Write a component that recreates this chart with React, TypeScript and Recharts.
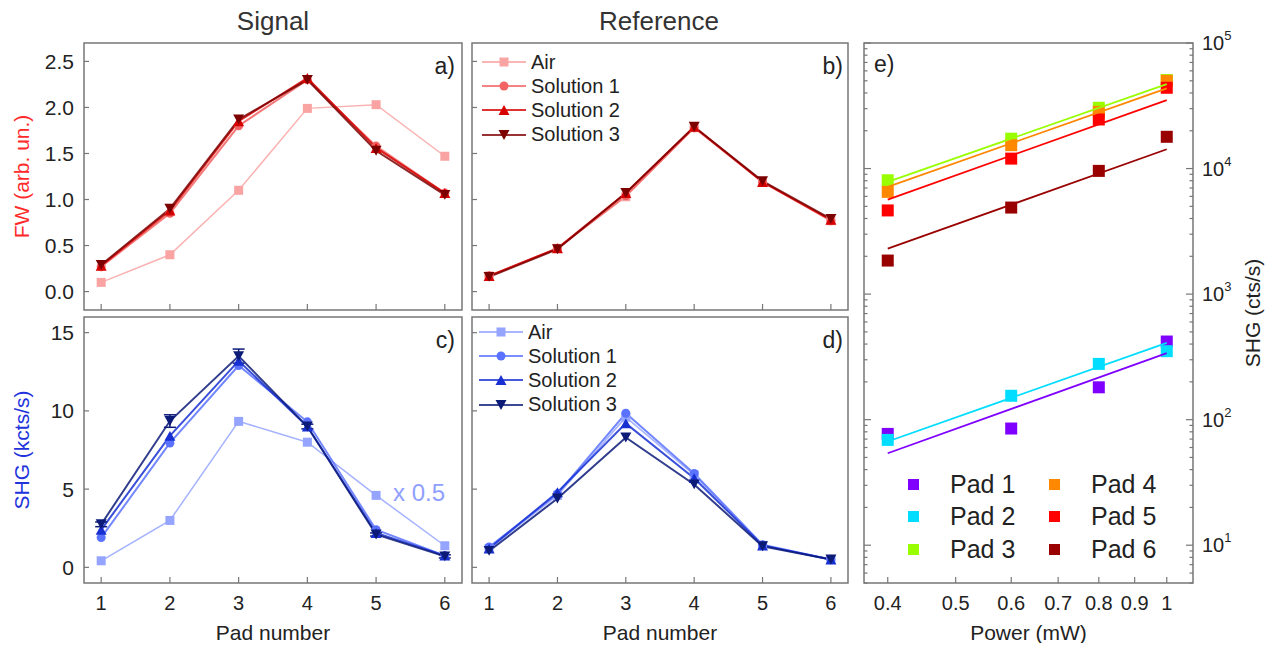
import React from "react"
import {
  LineChart,
  Line,
  XAxis,
  YAxis,
  Legend,
  ErrorBar,
  ReferenceArea,
  ScatterChart,
  Scatter,
} from "recharts"

const FONT = '"Liberation Sans", Arial, Helvetica, sans-serif'
const INK = "#222"
const FRAME = "#777"

// x axis of panels a-d
const pads = [1, 2, 3, 4, 5, 6]

// a) Signal, FW (arb. un.)
const sigFwAir = [0.1, 0.4, 1.1, 1.99, 2.03, 1.47]
const sigFwSol1 = [0.27, 0.85, 1.8, 2.3, 1.58, 1.07]
const sigFwSol2 = [0.28, 0.88, 1.85, 2.32, 1.56, 1.07]
const sigFwSol3 = [0.29, 0.9, 1.87, 2.3, 1.53, 1.05]

// b) Reference, FW
const refFwAir = [0.17, 0.47, 1.03, 1.78, 1.19, 0.77]
const refFwSol1 = [0.17, 0.47, 1.04, 1.78, 1.19, 0.77]
const refFwSol2 = [0.17, 0.47, 1.07, 1.79, 1.19, 0.78]
const refFwSol3 = [0.16, 0.46, 1.07, 1.79, 1.2, 0.79]

// c) Signal, SHG (kcts/s) - Air is shown x 0.5
const sigShgAir = [0.42, 3.0, 9.33, 8.0, 4.6, 1.38]
const sigShgSol1 = [1.9, 7.95, 12.9, 9.3, 2.4, 0.75]
const sigShgSol2 = [2.4, 8.4, 13.2, 9.0, 2.2, 0.75]
const sigShgSol3 = [2.75, 9.35, 13.5, 9.0, 2.1, 0.7]
const sigShgSol3Err = [0.15, 0.4, 0.45, 0.15, 0.1, 0.1]

// d) Reference, SHG
const refShgAir = [1.2, 4.6, 9.6, 5.9, 1.4, 0.5]
const refShgSol1 = [1.3, 4.7, 9.85, 6.0, 1.45, 0.5]
const refShgSol2 = [1.2, 4.8, 9.2, 5.7, 1.4, 0.5]
const refShgSol3 = [1.05, 4.4, 8.3, 5.3, 1.35, 0.5]

const seriesNames = ["Air", "Solution 1", "Solution 2", "Solution 3"]
const seriesKeys = ["air", "s1", "s2", "s3"]
const markerShapes = ["square", "circle", "up", "down"]
const fwColors = ["#f9a3a3", "#f26363", "#d60000", "#7d0000"]
const shgColors = ["#94a4ff", "#5a72ff", "#1830d2", "#0c1a78"]

const padTicks = [1, 2, 3, 4, 5, 6]
const fwTicks = [0, 0.5, 1, 1.5, 2, 2.5]
const shgTicks = [0, 5, 10, 15]

// e) SHG vs power, log-log
const powers = [0.4, 0.6, 0.8, 1.0]
const fitPowers = [0.4, 1.0]
const padNames = ["Pad 1", "Pad 2", "Pad 3", "Pad 4", "Pad 5", "Pad 6"]
const padColors = ["#7f00ff", "#00ddff", "#99ff00", "#ff8800", "#ff0000", "#990000"]
const pad1Shg = [77, 85, 181, 419]
const pad2Shg = [69, 155, 278, 351]
const pad3Shg = [8070, 17300, 30500, 50700]
const pad4Shg = [6520, 15350, 28300, 50000]
const pad5Shg = [4640, 12000, 24600, 44000]
const pad6Shg = [1850, 4890, 9580, 17900]
const pad1Fit = [54, 339]
const pad2Fit = [67, 409]
const pad3Fit = [7830, 47100]
const pad4Fit = [7140, 43500]
const pad5Fit = [5660, 35100]
const pad6Fit = [2300, 14250]

const powerTicks = [0.4, 0.5, 0.6, 0.7, 0.8, 0.9, 1]
const logTicks = [
  5, 6, 7, 8, 9, 10,
  20, 30, 40, 50, 60, 70, 80, 90, 100,
  200, 300, 400, 500, 600, 700, 800, 900, 1000,
  2000, 3000, 4000, 5000, 6000, 7000, 8000, 9000, 10000,
  20000, 30000, 40000, 50000, 60000, 70000, 80000, 90000, 100000,
]

const toRows = (a: number[], b: number[], c: number[], d: number[], err?: number[]) =>
  pads.map((pad, i) => ({ pad, air: a[i], s1: b[i], s2: c[i], s3: d[i], s3err: err ? err[i] : 0 }))

const sigFwData = toRows(sigFwAir, sigFwSol1, sigFwSol2, sigFwSol3)
const refFwData = toRows(refFwAir, refFwSol1, refFwSol2, refFwSol3)
const sigShgData = toRows(sigShgAir, sigShgSol1, sigShgSol2, sigShgSol3, sigShgSol3Err)
const refShgData = toRows(refShgAir, refShgSol1, refShgSol2, refShgSol3)

const padSeries = [pad1Shg, pad2Shg, pad3Shg, pad4Shg, pad5Shg, pad6Shg]
const padFits = [pad1Fit, pad2Fit, pad3Fit, pad4Fit, pad5Fit, pad6Fit]

function Marker({ cx, cy, shape, color, size }: any) {
  if (cx == null || cy == null) return null
  const s = size
  if (shape === "square") return <rect x={cx - s / 2} y={cy - s / 2} width={s} height={s} fill={color} />
  if (shape === "circle") return <circle cx={cx} cy={cy} r={s / 2} fill={color} />
  const h = s * 0.9
  if (shape === "up")
    return <polygon points={`${cx - s / 2},${cy + h / 2} ${cx + s / 2},${cy + h / 2} ${cx},${cy - h / 2}`} fill={color} />
  return <polygon points={`${cx - s / 2},${cy - h / 2} ${cx + s / 2},${cy - h / 2} ${cx},${cy + h / 2}`} fill={color} />
}

const isDecade = (v: number) => Math.abs(Math.log10(v) - Math.round(Math.log10(v))) < 1e-9

// tick renderers: ticks point into the frame
const leftTick = (show: boolean, fmt: (v: number) => string) => (props: any) => {
  const { x, y, payload } = props
  return (
    <g>
      <line x1={x} x2={x + 5} y1={y} y2={y} stroke={FRAME} strokeWidth={1.2} />
      {show && (
        <text x={x - 10} y={y + 7.5} textAnchor="end" fontSize={21} fontFamily={FONT} fill={INK}>
          {fmt(payload.value)}
        </text>
      )}
    </g>
  )
}

const bottomTick = (show: boolean, fmt: (v: number) => string) => (props: any) => {
  const { x, y, payload } = props
  return (
    <g>
      <line x1={x} x2={x} y1={y} y2={y - 6} stroke={FRAME} strokeWidth={1.2} />
      {show && (
        <text x={x} y={y + 27} textAnchor="middle" fontSize={20} fontFamily={FONT} fill={INK}>
          {fmt(payload.value)}
        </text>
      )}
    </g>
  )
}

const logLeftTick = (props: any) => {
  const { x, y, payload } = props
  const len = isDecade(payload.value) ? 7 : 3.5
  return <line x1={x} x2={x + len} y1={y} y2={y} stroke={FRAME} strokeWidth={1.2} />
}

const logRightTick = (props: any) => {
  const { x, y, payload } = props
  const major = isDecade(payload.value)
  return (
    <g>
      <line x1={x} x2={x - (major ? 7 : 3.5)} y1={y} y2={y} stroke={FRAME} strokeWidth={1.2} />
      {major && (
        <text x={x + 9} y={y + 7} fontSize={20} fontFamily={FONT} fill={INK}>
          10
          <tspan dy={-10} fontSize={13}>
            {Math.round(Math.log10(payload.value))}
          </tspan>
        </text>
      )}
    </g>
  )
}

const seriesLegend = (colors: string[]) => () => (
  <div style={{ fontFamily: FONT, fontSize: 20, color: INK }}>
    {seriesNames.map((n, i) => (
      <div key={n} style={{ display: "flex", alignItems: "center", height: 24.2 }}>
        <svg width={44} height={14} style={{ marginRight: 5 }}>
          <line x1={0} x2={44} y1={7} y2={7} stroke={colors[i]} strokeWidth={2} strokeOpacity={0.8} />
          <Marker cx={22} cy={7} shape={markerShapes[i]} color={colors[i]} size={i > 1 ? 11 : 9} />
        </svg>
        <span>{n}</span>
      </div>
    ))}
  </div>
)

const padLegend = () => (
  <div
    style={{
      display: "grid",
      gridTemplateColumns: "141px 141px",
      gridTemplateRows: "repeat(3, 32.5px)",
      gridAutoFlow: "column",
      fontFamily: FONT,
      fontSize: 25,
      color: INK,
    }}
  >
    {padNames.map((n, i) => (
      <div key={n} style={{ display: "flex", alignItems: "center" }}>
        <span style={{ width: 11, height: 11, background: padColors[i], marginRight: 31.5, display: "inline-block" }} />
        {n}
      </div>
    ))}
  </div>
)

function PadPanel({ box, leftW, data, colors, yDomain, yTicks, yFmt, yLabels, yTitle, yTitleColor, xLabels, legendPos, errors }: any) {
  const top = 10
  const bottom = 60
  const right = 10
  return (
    <div style={{ position: "absolute", left: box.x - leftW, top: box.y - top }}>
      <LineChart
        width={leftW + box.w + right}
        height={top + box.h + bottom}
        data={data}
        margin={{ top, right, bottom: 0, left: 0 }}
      >
        <XAxis
          dataKey="pad"
          type="number"
          domain={[0.75, 6.25]}
          ticks={padTicks}
          interval={0}
          allowDataOverflow
          height={bottom}
          axisLine={false}
          tickLine={false}
          tickSize={0}
          tickMargin={0}
          tick={bottomTick(xLabels, (v) => String(v))}
          label={
            xLabels
              ? { value: "Pad number", position: "insideBottom", offset: 3.5, fontSize: 21, fill: INK, fontFamily: FONT }
              : undefined
          }
        />
        <YAxis
          type="number"
          domain={yDomain}
          ticks={yTicks}
          interval={0}
          allowDataOverflow
          width={leftW}
          axisLine={false}
          tickLine={false}
          tickSize={0}
          tickMargin={0}
          tick={leftTick(yLabels, yFmt)}
          label={
            yTitle
              ? {
                  value: yTitle,
                  angle: -90,
                  position: "insideLeft",
                  offset: 22 - box.x + leftW,
                  fontSize: 21,
                  fill: yTitleColor,
                  fontFamily: FONT,
                  style: { textAnchor: "middle" },
                }
              : undefined
          }
        />
        <ReferenceArea x1={0.75} x2={6.25} y1={yDomain[0]} y2={yDomain[1]} fill="none" stroke={FRAME} strokeWidth={1.5} />
        {seriesKeys.map((k, i) => (
          <Line
            key={k}
            dataKey={k}
            name={seriesNames[i]}
            stroke={colors[i]}
            strokeOpacity={0.85}
            strokeWidth={i === 0 ? 1.5 : 2}
            activeDot={false}
            isAnimationActive={false}
            dot={(p: any) => (
              <Marker key={`${k}-${p.index}`} cx={p.cx} cy={p.cy} shape={markerShapes[i]} color={colors[i]} size={i > 1 ? 11 : 9} />
            )}
          >
            {errors && k === "s3" && <ErrorBar dataKey="s3err" width={6} strokeWidth={1.5} stroke={colors[i]} direction="y" />}
          </Line>
        ))}
        {legendPos && (
          <Legend
            layout="vertical"
            align="center"
            verticalAlign="middle"
            wrapperStyle={{ left: legendPos.left, top: legendPos.top, width: 200 }}
            content={seriesLegend(colors)}
          />
        )}
      </LineChart>
    </div>
  )
}

const textStyle = (left: number, top: number, size: number, color: string, width = 0, align: any = "left") => ({
  position: "absolute" as const,
  left,
  top,
  width: width || undefined,
  textAlign: align,
  fontSize: size,
  lineHeight: 1,
  color,
  fontFamily: FONT,
  whiteSpace: "nowrap" as const,
})

export default function App() {
  return (
    <div style={{ position: "absolute", left: 0, top: 0, width: 1276, height: 648, background: "#fff", fontFamily: FONT }}>
      <div style={textStyle(173, 8, 26, "#333", 200, "center")}>Signal</div>
      <div style={textStyle(559, 8, 26, "#333", 200, "center")}>Reference</div>

      <PadPanel
        box={{ x: 84, y: 43, w: 378, h: 267 }}
        leftW={90}
        data={sigFwData}
        colors={fwColors}
        yDomain={[-0.2, 2.7]}
        yTicks={fwTicks}
        yFmt={(v: number) => v.toFixed(1)}
        yLabels
        yTitle="FW (arb. un.)"
        yTitleColor="#ff2a2a"
        xLabels={false}
      />
      <PadPanel
        box={{ x: 472, y: 43, w: 376, h: 267 }}
        leftW={10}
        data={refFwData}
        colors={fwColors}
        yDomain={[-0.2, 2.7]}
        yTicks={fwTicks}
        yFmt={(v: number) => v.toFixed(1)}
        yLabels={false}
        xLabels={false}
        legendPos={{ left: 20, top: 17 }}
      />
      <PadPanel
        box={{ x: 84, y: 317, w: 378, h: 266 }}
        leftW={90}
        data={sigShgData}
        colors={shgColors}
        yDomain={[-1, 16]}
        yTicks={shgTicks}
        yFmt={(v: number) => String(v)}
        yLabels
        yTitle="SHG (kcts/s)"
        yTitleColor="#2233dd"
        xLabels
        errors
      />
      <PadPanel
        box={{ x: 472, y: 317, w: 376, h: 266 }}
        leftW={10}
        data={refShgData}
        colors={shgColors}
        yDomain={[-1, 16]}
        yTicks={shgTicks}
        yFmt={(v: number) => String(v)}
        yLabels={false}
        xLabels
        legendPos={{ left: 17, top: 13 }}
      />

      <div style={{ position: "absolute", left: 854, top: 13 }}>
        <ScatterChart width={422} height={630} margin={{ top: 30, right: 0, bottom: 0, left: 0 }}>
          <XAxis
            dataKey="x"
            type="number"
            scale="log"
            domain={[0.37, 1.09]}
            ticks={powerTicks}
            interval={0}
            allowDataOverflow
            height={60}
            axisLine={false}
            tickLine={false}
            tickSize={0}
            tickMargin={0}
            tick={bottomTick(true, (v) => (v === 1 ? "1" : v.toFixed(1)))}
            label={{ value: "Power (mW)", position: "insideBottom", offset: 3.5, fontSize: 21, fill: INK, fontFamily: FONT }}
          />
          <YAxis
            yAxisId="l"
            orientation="left"
            type="number"
            scale="log"
            domain={[5, 100000]}
            ticks={logTicks}
            interval={0}
            allowDataOverflow
            width={10}
            axisLine={false}
            tickLine={false}
            tickSize={0}
            tickMargin={0}
            tick={logLeftTick}
          />
          <YAxis
            dataKey="y"
            orientation="right"
            type="number"
            scale="log"
            domain={[5, 100000]}
            ticks={logTicks}
            interval={0}
            allowDataOverflow
            width={83}
            axisLine={false}
            tickLine={false}
            tickSize={0}
            tickMargin={0}
            tick={logRightTick}
            label={{
              value: "SHG (cts/s)",
              angle: -90,
              position: "insideRight",
              offset: 23,
              fontSize: 21,
              fill: INK,
              fontFamily: FONT,
              style: { textAnchor: "middle" },
            }}
          />
          <ReferenceArea x1={0.37} x2={1.09} y1={5} y2={100000} fill="none" stroke={FRAME} strokeWidth={1.5} />
          {padSeries.map((vals, i) => (
            <Scatter
              key={padNames[i]}
              name={padNames[i]}
              data={powers.map((x, j) => ({ x, y: vals[j] }))}
              isAnimationActive={false}
              shape={(p: any) => <Marker cx={p.cx} cy={p.cy} shape="square" color={padColors[i]} size={12} />}
            />
          ))}
          {padFits.map((vals, i) => (
            <Scatter
              key={`${padNames[i]}-fit`}
              name={`${padNames[i]} fit`}
              data={fitPowers.map((x, j) => ({ x, y: vals[j] }))}
              isAnimationActive={false}
              line={{ stroke: padColors[i], strokeWidth: 1.8 }}
              shape={() => <g />}
            />
          ))}
          <Legend
            layout="vertical"
            align="center"
            verticalAlign="middle"
            wrapperStyle={{ left: 53.5, top: 454.75, width: 300 }}
            content={padLegend}
          />
        </ScatterChart>
      </div>

      <div style={textStyle(405, 55, 23, INK, 50, "right")}>a)</div>
      <div style={textStyle(793, 55, 23, INK, 50, "right")}>b)</div>
      <div style={textStyle(405, 329, 23, INK, 50, "right")}>c)</div>
      <div style={textStyle(793, 329, 23, INK, 50, "right")}>d)</div>
      <div style={textStyle(874, 53, 23, INK)}>e)</div>
      <div style={textStyle(393, 481, 24, "#8fa0ff")}>x 0.5</div>
    </div>
  )
}
